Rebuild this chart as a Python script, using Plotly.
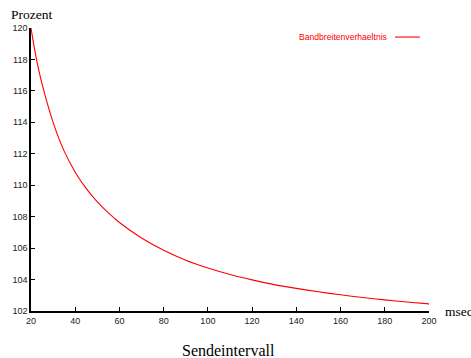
import plotly.graph_objects as go

# Data
sendeintervall = [20, 22, 25, 30, 35, 40, 45, 50, 55, 60, 70, 80, 90, 100,
                  110, 120, 130, 140, 150, 160, 170, 180, 190, 200]
prozent = [120.0, 118.36, 116.44, 114.0, 112.17, 110.83, 109.78, 108.94, 108.24,
           107.63, 106.64, 105.86, 105.23, 104.73, 104.32, 103.98, 103.68, 103.44,
           103.22, 103.03, 102.86, 102.71, 102.57, 102.45]
x_ticks = [20, 40, 60, 80, 100, 120, 140, 160, 180, 200]
y_ticks = [102, 104, 106, 108, 110, 112, 114, 116, 118, 120]
series_name = "Bandbreitenverhaeltnis"

fig = go.Figure()
fig.add_trace(go.Scatter(x=sendeintervall, y=prozent, mode="lines",
                         line=dict(color="red", width=1.1, shape="spline", smoothing=0.8),
                         name=series_name, showlegend=False))

tickfont = dict(family="Liberation Sans, Arial", size=9, color="#222")
serif = "Liberation Serif, Times New Roman"
fig.update_layout(
    width=471, height=358,
    margin=dict(l=31, r=42, t=28, b=47),
    paper_bgcolor="white", plot_bgcolor="white",
    xaxis=dict(range=[20, 200], tickvals=x_ticks, ticks="inside", ticklen=4,
               showline=True, linecolor="black", linewidth=1.5, showgrid=False,
               zeroline=False, tickfont=tickfont, tickcolor="black"),
    yaxis=dict(range=[102, 120], tickvals=y_ticks, ticks="inside", ticklen=4,
               showline=True, linecolor="black", linewidth=1.5, showgrid=False,
               zeroline=False, tickfont=tickfont, tickcolor="black"),
    annotations=[
        dict(text="Prozent", xref="paper", yref="paper", x=-0.055, y=1.049,
             xanchor="left", yanchor="middle", showarrow=False,
             font=dict(family=serif, size=13.5, color="black")),
        dict(text="msec", xref="paper", yref="paper", x=1.036, y=0,
             xanchor="left", yanchor="middle", showarrow=False,
             font=dict(family=serif, size=13.5, color="black")),
        dict(text="Sendeintervall", xref="paper", yref="paper", x=0.495, y=-0.138,
             xanchor="center", yanchor="middle", showarrow=False,
             font=dict(family=serif, size=16, color="black")),
        dict(text=series_name, xref="paper", yref="paper", x=0.8995, y=0.968,
             xanchor="right", yanchor="middle", showarrow=False,
             font=dict(family="Liberation Sans, Arial", size=8.6, color="red")),
    ],
    shapes=[dict(type="line", xref="paper", yref="paper", x0=0.9146, x1=0.977,
                 y0=0.968, y1=0.968, line=dict(color="red", width=1.1))],
)

fig.write_html("out.html")
